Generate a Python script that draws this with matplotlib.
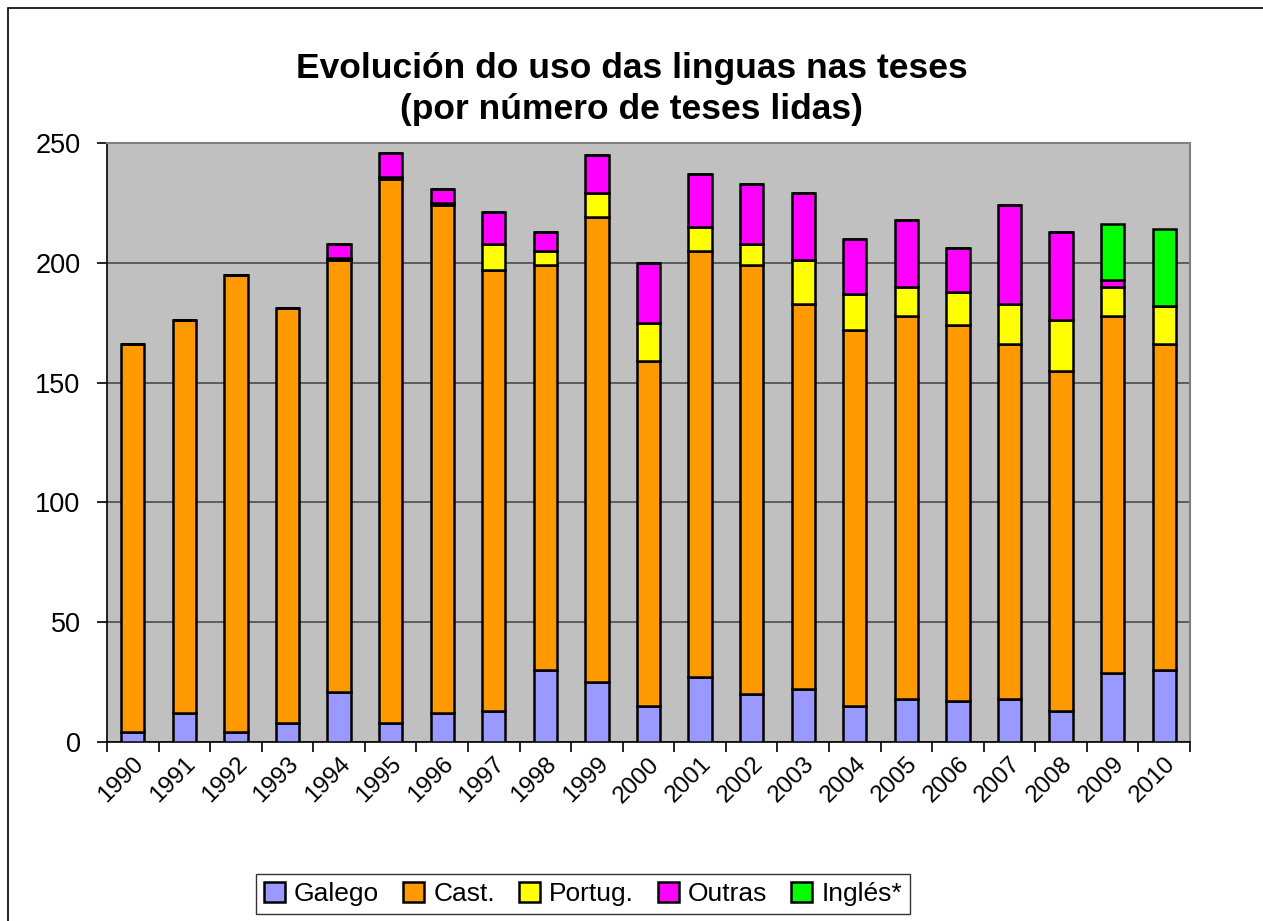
import matplotlib
matplotlib.use("Agg")
import matplotlib.pyplot as plt
from matplotlib.patches import Rectangle
import numpy as np

plt.rcParams['font.family'] = ['Liberation Sans', 'DejaVu Sans']

years = ["1990", "1991", "1992", "1993", "1994", "1995", "1996", "1997", "1998", "1999", "2000",
         "2001", "2002", "2003", "2004", "2005", "2006", "2007", "2008", "2009", "2010"]
galego = [4, 12, 4, 8, 21, 8, 12, 13, 30, 25, 15, 27, 20, 22, 15, 18, 17, 18, 13, 29, 30]
cast =   [162, 164, 191, 173, 180, 227, 212, 184, 169, 194, 144, 178, 179, 161, 157, 160, 157, 148, 142, 149, 136]
portug = [0, 0, 0, 0, 1, 1, 1, 11, 6, 10, 16, 10, 9, 18, 15, 12, 14, 17, 21, 12, 16]
outras = [0, 0, 0, 0, 6, 10, 6, 13, 8, 16, 25, 22, 25, 28, 23, 28, 18, 41, 37, 3, 0]
ingles = [0, 0, 0, 0, 0, 0, 0, 0, 0, 0, 0, 0, 0, 0, 0, 0, 0, 0, 0, 23, 32]

series = [("Galego", galego, "#9999FF"),
          ("Cast.", cast, "#FF9900"),
          ("Portug.", portug, "#FFFF00"),
          ("Outras", outras, "#FF00FF"),
          ("Inglés*", ingles, "#00FF00")]

fig = plt.figure(figsize=(12.63, 9.21), dpi=100)
ax = fig.add_axes([107/1263, 1-742/921, (1190-107)/1263, (742-143)/921])
ax.set_facecolor("#C0C0C0")

x = np.arange(len(years))
bottom = np.zeros(len(years))
handles = []
for name, vals, col in series:
    v = np.array(vals, dtype=float)
    b = ax.bar(x, v, width=0.45, bottom=bottom, color=col, edgecolor="black",
               linewidth=1.8, label=name, zorder=3)
    handles.append(b)
    bottom += v

ax.set_xlim(-0.5, len(years) - 0.5)
ax.set_ylim(0, 250)
ax.set_yticks([0, 50, 100, 150, 200, 250])
ax.yaxis.grid(True, color="#555555", linewidth=1.3, zorder=1)
ax.set_axisbelow(True)

ax.set_xticks(x)
ax.set_xticklabels(years, rotation=45, ha="right", va="top", rotation_mode="anchor", fontsize=17.5)
ax.tick_params(axis="x", length=0, pad=8)
ax.set_xticks(np.arange(-0.5, len(years)), minor=True)
ax.tick_params(axis="x", which="minor", length=7, width=1.2, direction="out")
ax.tick_params(axis="y", labelsize=19.5, length=7, width=1.2, direction="out", pad=12)

for s in ["top", "right"]:
    ax.spines[s].set_color("#808080")
    ax.spines[s].set_linewidth(1.5)
for s in ["left", "bottom"]:
    ax.spines[s].set_color("black")
    ax.spines[s].set_linewidth(1.2)

fig.text(0.5, 1-89/921, "Evolución do uso das linguas nas teses\n(por número de teses lidas)",
         ha="center", va="center", fontsize=25.5, fontweight="bold", linespacing=1.3)

leg = fig.legend(handles=handles, loc="center", bbox_to_anchor=(583/1263, 1-894/921),
                 ncol=5, fontsize=19, frameon=True, fancybox=False, edgecolor="black",
                 handlelength=0.8, handleheight=0.8, handletextpad=0.35, columnspacing=0.9,
                 borderpad=0.3)
leg.get_frame().set_linewidth(1.0)

fig.patches.append(Rectangle((8/1263, -0.01), 1.0, 1-8/921 + 0.01, transform=fig.transFigure,
                             fill=False, edgecolor="black", linewidth=1.2))

fig.savefig("out.png", dpi=100)
